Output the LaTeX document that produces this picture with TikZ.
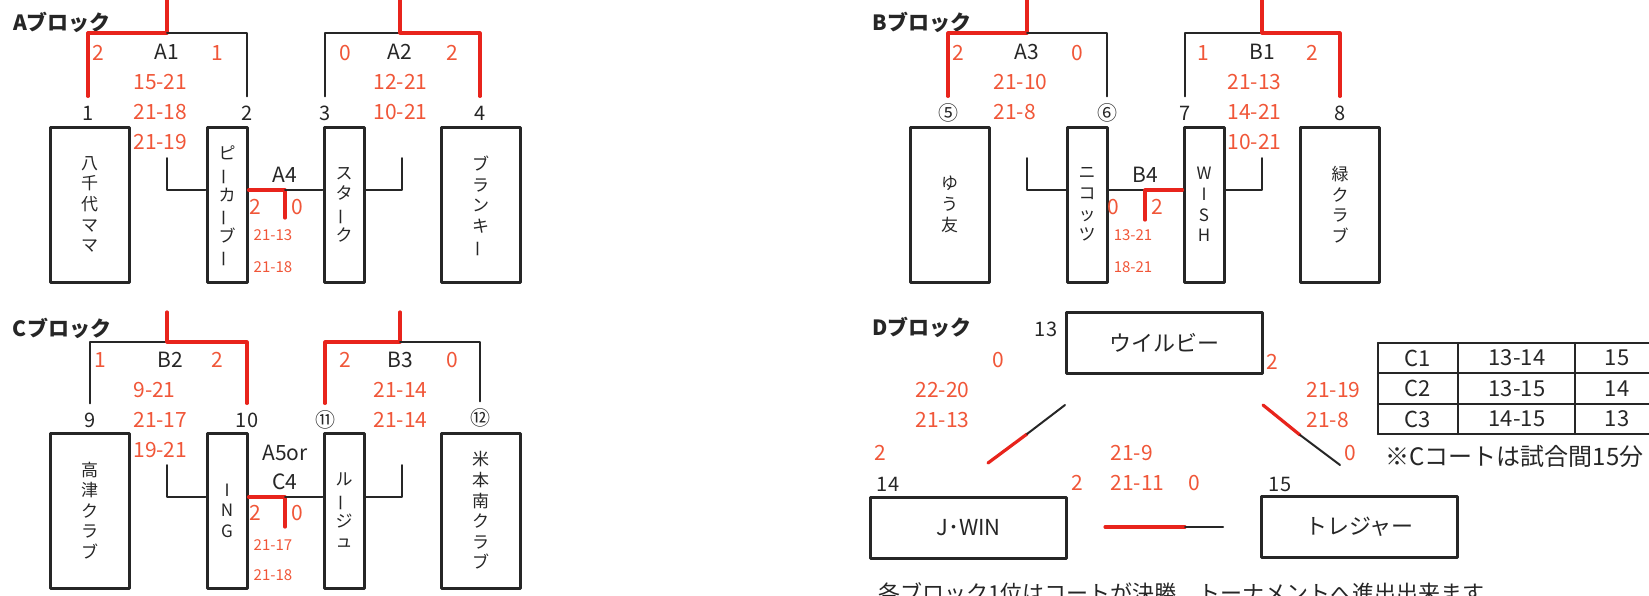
\documentclass[tikz,border=0pt]{standalone}
\usepackage{fontspec}
\setmainfont{Noto Sans CJK JP}
\usepackage{graphicx}
\definecolor{win}{RGB}{232,36,28}
\definecolor{pt}{RGB}{240,86,56}
\definecolor{ink}{RGB}{38,38,38}
\newcommand{\nobi}{\makebox[1em]{\smash{\rotatebox[origin=c]{90}{ー}}}}

\begin{document}
\begin{tikzpicture}[x=0.5pt,y=-0.5pt,line join=round,line cap=round,
	box/.style={draw=ink,line width=1.5pt,inner sep=0pt,align=center,text=ink,font=\fontsize{8.5}{10.3}\selectfont},
	wide/.style={box,minimum width=39.5pt,minimum height=77.5pt},
	slim/.style={box,minimum width=20pt,minimum height=77.5pt},
	flat/.style={box,minimum width=98pt,minimum height=30.5pt,font=\fontsize{11}{13}\selectfont},
	num/.style={inner sep=4.5pt,text=ink,text height=7.2pt,text depth=0pt,font=\fontsize{10}{12}\selectfont},
	mt/.style={inner sep=0pt,text=ink,font=\fontsize{10.5}{12}\selectfont},
	pts/.style={inner sep=0pt,text=pt,font=\fontsize{10.5}{12}\selectfont},
	sc/.style={pts,anchor=west},
	tiny/.style={pts,font=\fontsize{7.5}{9}\selectfont},
	blk/.style={inner sep=0pt,text=ink,font=\bfseries\fontsize{10.5}{12}\selectfont},
	cell/.style={inner sep=0pt,text=ink,font=\fontsize{11}{13}\selectfont},
	lose/.style={draw=ink,line width=1pt},
	won/.style={draw=win,line width=1.6pt},
	tab/.style={draw=ink,line width=1.2pt}]
	\useasboundingbox (0,0) rectangle (1649,595);
	\clip (0,0) rectangle (1649,595);
	% Aブロック
	\node[blk] (hA) at (62,22) {Aブロック};
	\node[wide] (t1) at (89.5,204.5) {八\\千\\代\\マ\\マ};
	\node[slim] (t2) at (227,204.5) {ピ\\\nobi\\カ\\\nobi\\ブ\\\nobi};
	\node[slim] (t3) at (344,204.5) {ス\\タ\\\nobi\\ク};
	\node[wide] (t4) at (480.5,204.5) {ブ\\ラ\\ン\\キ\\\nobi};
	\node[num] (n1) at (88,113) {1};
	\node[num] (n2) at (247,113) {2};
	\node[num] (n3) at (325,113) {3};
	\node[num] (n4) at (480,113) {4};
	\draw[won] (n1.north) |- (167,33) -- (167,0);
	\draw[lose] (167,33) -| (n2.north);
	\draw[lose] (n3.north) |- (400,33);
	\draw[won] (400,0) -- (400,33) -| (n4.north);
	\node[mt] (mA1) at (167,52) {A1};
	\node[pts] (pA1a) at (98,53) {2};
	\node[pts] (pA1b) at (217,53) {1};
	\foreach \s [count=\i] in {15-21,21-18,21-19} \node[sc] (sA1\i) at (133,52+30*\i) {\s};
	\node[mt] (mA2) at (400,52) {A2};
	\node[pts] (pA2a) at (345,53) {0};
	\node[pts] (pA2b) at (452,53) {2};
	\foreach \s [count=\i] in {12-21,10-21} \node[sc] (sA2\i) at (373,52+30*\i) {\s};
	\coordinate (a4) at (285,190);
	\draw[lose] (167,158) |- (t2.west |- a4);
	\draw[won] (t2.east |- a4) -- (a4) -- ++(0,28);
	\draw[lose] (a4) -- (t3.west |- a4);
	\draw[lose] (t3.east |- a4) -| (402,158);
	\node[mt] (mA4) at (285,175) {A4};
	\node[pts] (pA4a) at (255,207) {2};
	\node[pts] (pA4b) at (297,207) {0};
	\node[tiny] (sA41) at (273,235) {21-13};
	\node[tiny] (sA42) at (273,267) {21-18};
	% Bブロック
	\node[blk] (hB) at (922,22) {Bブロック};
	\node[wide] (t5) at (949.5,204.5) {ゆ\\う\\友};
	\node[slim] (t6) at (1087,204.5) {ニ\\コ\\ッ\\ツ};
	\node[slim] (t7) at (1204,204.5) {W\\I\\S\\H};
	\node[wide] (t8) at (1340,204.5) {緑\\ク\\ラ\\ブ};
	\node[num] (n5) at (948,113) {⑤};
	\node[num] (n6) at (1107,113) {⑥};
	\node[num] (n7) at (1185,113) {7};
	\node[num] (n8) at (1340,113) {8};
	\draw[won] (n5.north) |- (1027,33) -- (1027,0);
	\draw[lose] (1027,33) -| (n6.north);
	\draw[lose] (n7.north) |- (1262,33);
	\draw[won] (1262,0) -- (1262,33) -| (n8.north);
	\node[mt] (mA3) at (1027,52) {A3};
	\node[pts] (pA3a) at (958,53) {2};
	\node[pts] (pA3b) at (1077,53) {0};
	\foreach \s [count=\i] in {21-10,21-8} \node[sc] (sA3\i) at (993,52+30*\i) {\s};
	\node[mt] (mB1) at (1262,52) {B1};
	\node[pts] (pB1a) at (1203,53) {1};
	\node[pts] (pB1b) at (1312,53) {2};
	\foreach \s [count=\i] in {21-13,14-21,10-21} \node[sc] (sB1\i) at (1227,52+30*\i) {\s};
	\coordinate (b4) at (1145,190);
	\draw[lose] (1027,158) |- (t6.west |- b4);
	\draw[lose] (t6.east |- b4) -- (b4);
	\draw[won] (t7.west |- b4) -- (b4) -- ++(0,30);
	\draw[lose] (t7.east |- b4) -| (1262,158);
	\node[mt] (mB4) at (1145,175) {B4};
	\node[pts] (pB4a) at (1113,207) {0};
	\node[pts] (pB4b) at (1157,207) {2};
	\node[tiny] (sB41) at (1133,235) {13-21};
	\node[tiny] (sB42) at (1133,267) {18-21};
	% Cブロック
	\node[blk] (hC) at (62,328) {Cブロック};
	\node[wide] (t9) at (89.5,510.5) {高\\津\\ク\\ラ\\ブ};
	\node[slim] (t10) at (227,510.5) {I\\N\\G};
	\node[slim] (t11) at (344,510.5) {ル\\\nobi\\ジ\\ュ};
	\node[wide] (t12) at (480.5,510.5) {米\\本\\南\\ク\\ラ\\ブ};
	\node[num] (n9) at (90,420) {9};
	\node[num] (n10) at (247,420) {10};
	\node[num] (n11) at (325,420) {⑪};
	\node[num] (n12) at (480,418) {⑫};
	\draw[lose] (n9.north) |- (167,342);
	\draw[won] (167,312) -- (167,342) -| (n10.north);
	\draw[won] (n11.north) |- (400,342) -- (400,312);
	\draw[lose] (400,342) -| (n12.north);
	\node[mt] (mB2) at (170,360) {B2};
	\node[pts] (pB2a) at (100,360) {1};
	\node[pts] (pB2b) at (217,360) {2};
	\foreach \s [count=\i] in {9-21,21-17,19-21} \node[sc] (sB2\i) at (133,360+30*\i) {\s};
	\node[mt] (mB3) at (400,360) {B3};
	\node[pts] (pB3a) at (345,360) {2};
	\node[pts] (pB3b) at (452,360) {0};
	\foreach \s [count=\i] in {21-14,21-14} \node[sc] (sB3\i) at (373,360+30*\i) {\s};
	\coordinate (c4) at (285,497);
	\draw[lose] (167,465) |- (t10.west |- c4);
	\draw[won] (t10.east |- c4) -- (c4) -- ++(0,30);
	\draw[lose] (c4) -- (t11.west |- c4);
	\draw[lose] (t11.east |- c4) -| (402,465);
	\node[mt] (mA5) at (285,453) {A5or};
	\node[mt] (mC4) at (285,482) {C4};
	\node[pts] (pC4a) at (255,513) {2};
	\node[pts] (pC4b) at (297,513) {0};
	\node[tiny] (sC41) at (273,545) {21-17};
	\node[tiny] (sC42) at (273,575) {21-18};
	% Dブロック
	\node[blk] (hD) at (922,327) {Dブロック};
	\node[flat] (t13) at (1164,342.5) {ウイルビー};
	\node[flat] (t14) at (968.5,527.5) {J･WIN};
	\node[flat] (t15) at (1359.5,527) {トレジャー};
	\node[num] (n13) at (1046,329) {13};
	\node[num] (n14) at (888,484) {14};
	\node[num] (n15) at (1280,484) {15};
	\coordinate (d1a) at (988,463); \coordinate (d1m) at (1027,434); \coordinate (d1b) at (1065,405);
	\draw[won] (d1a) -- (d1m); \draw[lose] (d1m) -- (d1b);
	\coordinate (d2a) at (1263,405); \coordinate (d2m) at (1300,435); \coordinate (d2b) at (1340,465);
	\draw[won] (d2a) -- (d2m); \draw[lose] (d2m) -- (d2b);
	\coordinate (d3a) at (1105,527); \coordinate (d3m) at (1185,527); \coordinate (d3b) at (1223,527);
	\draw[won] (d3a) -- (d3m); \draw[lose] (d3m) -- (d3b);
	\node[pts] (pD1a) at (998,360) {0};
	\foreach \s [count=\i] in {22-20,21-13} \node[sc] (sD1\i) at (915,360+30*\i) {\s};
	\node[pts] (pD1b) at (880,453) {2};
	\node[pts] (pD2a) at (1272,362) {2};
	\foreach \s [count=\i] in {21-19,21-8} \node[sc] (sD2\i) at (1306,360+30*\i) {\s};
	\node[pts] (pD2b) at (1350,453) {0};
	\node[sc] (sD31) at (1110,453) {21-9};
	\node[sc] (sD32) at (1110,483) {21-11};
	\node[pts] (pD3a) at (1077,483) {2};
	\node[pts] (pD3b) at (1194,483) {0};
	% コート表
	\foreach \y in {343,373,404,434} \draw[tab] (1378,\y) -- (1680,\y);
	\foreach \x in {1378,1458,1575} \draw[tab] (\x,343) -- (\x,434);
	\foreach \c/\m/\w [count=\i] in {C1/13-14/15,C2/13-15/14,C3/14-15/13} {
		\node[cell] (k\i) at (1418,327.5+30.5*\i) {\c};
		\node[cell] (m\i) at (1517,327.5+30.5*\i) {\m};
		\node[cell] (w\i) at (1617,327.5+30.5*\i) {\w};
	}
	\node[cell,anchor=west,font=\fontsize{12}{14}\selectfont] (note) at (1385,456) {※Cコートは試合間15分};
	\node[cell,anchor=west] (foot) at (878,593) {各ブロック1位はコートが決勝　トーナメントへ進出出来ます};
\end{tikzpicture}
\end{document}
